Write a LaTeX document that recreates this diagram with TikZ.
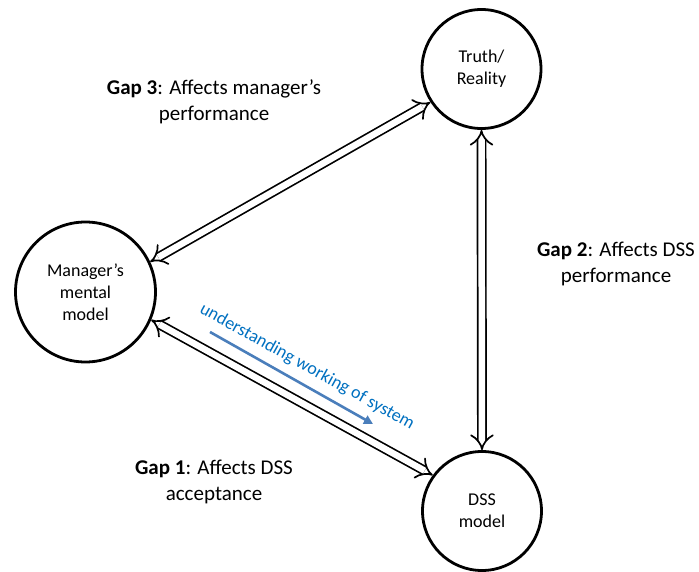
\documentclass[tikz,border=0pt]{standalone}
\usepackage{fontspec}
\setmainfont{Carlito}
\usetikzlibrary{arrows.meta}
\definecolor{bluetext}{RGB}{0,112,192}
\definecolor{bluearrow}{RGB}{74,126,187}
\tikzset{
  entity/.style={circle, draw, line width=2.8pt, inner sep=0pt, align=center,
    font=\fontsize{18}{22}\selectfont},
  gaplink/.style={double, double distance=6.5pt, line width=1.7pt, {Implies}-{Implies}},
  gaplabel/.style={align=center, font=\fontsize{21}{25.6}\selectfont},
}
\begin{document}
\begin{tikzpicture}[x=1pt,y=-1pt]
\useasboundingbox (0,0) rectangle (699,572);
\node[entity, minimum size=119pt] (truth) at (481.5,69) {Truth/\\Reality};
\node[entity, minimum size=140pt] (man) at (85.5,292) {Manager’s\\mental\\model};
\node[entity, minimum size=119pt] (dss) at (482,511) {DSS\\model};

\draw[gaplink] (man.25.7) -- (truth.213);
\draw[gaplink] (man.-23.7) -- (dss.144);
\draw[gaplink] (truth.south) -- (dss.north);

\node[gaplabel] (g3) at (214,102) {\textbf{Gap 3}: Affects manager’s\\performance};
\node[gaplabel] (g2) at (616,264) {\textbf{Gap 2}: Affects DSS\\performance};
\node[gaplabel] (g1) at (214,482) {\textbf{Gap 1}: Affects DSS\\acceptance};

\node[text=bluetext, rotate=-29, font=\fontsize{18}{22}\selectfont] (u) at (307,367) {understanding working of system};
\coordinate (ua) at (210,332);
\coordinate (ub) at (373,424);
\draw[bluearrow, line width=2.6pt, -{Triangle[length=9pt,width=9pt]}] (ua) -- (ub);
\end{tikzpicture}
\end{document}
